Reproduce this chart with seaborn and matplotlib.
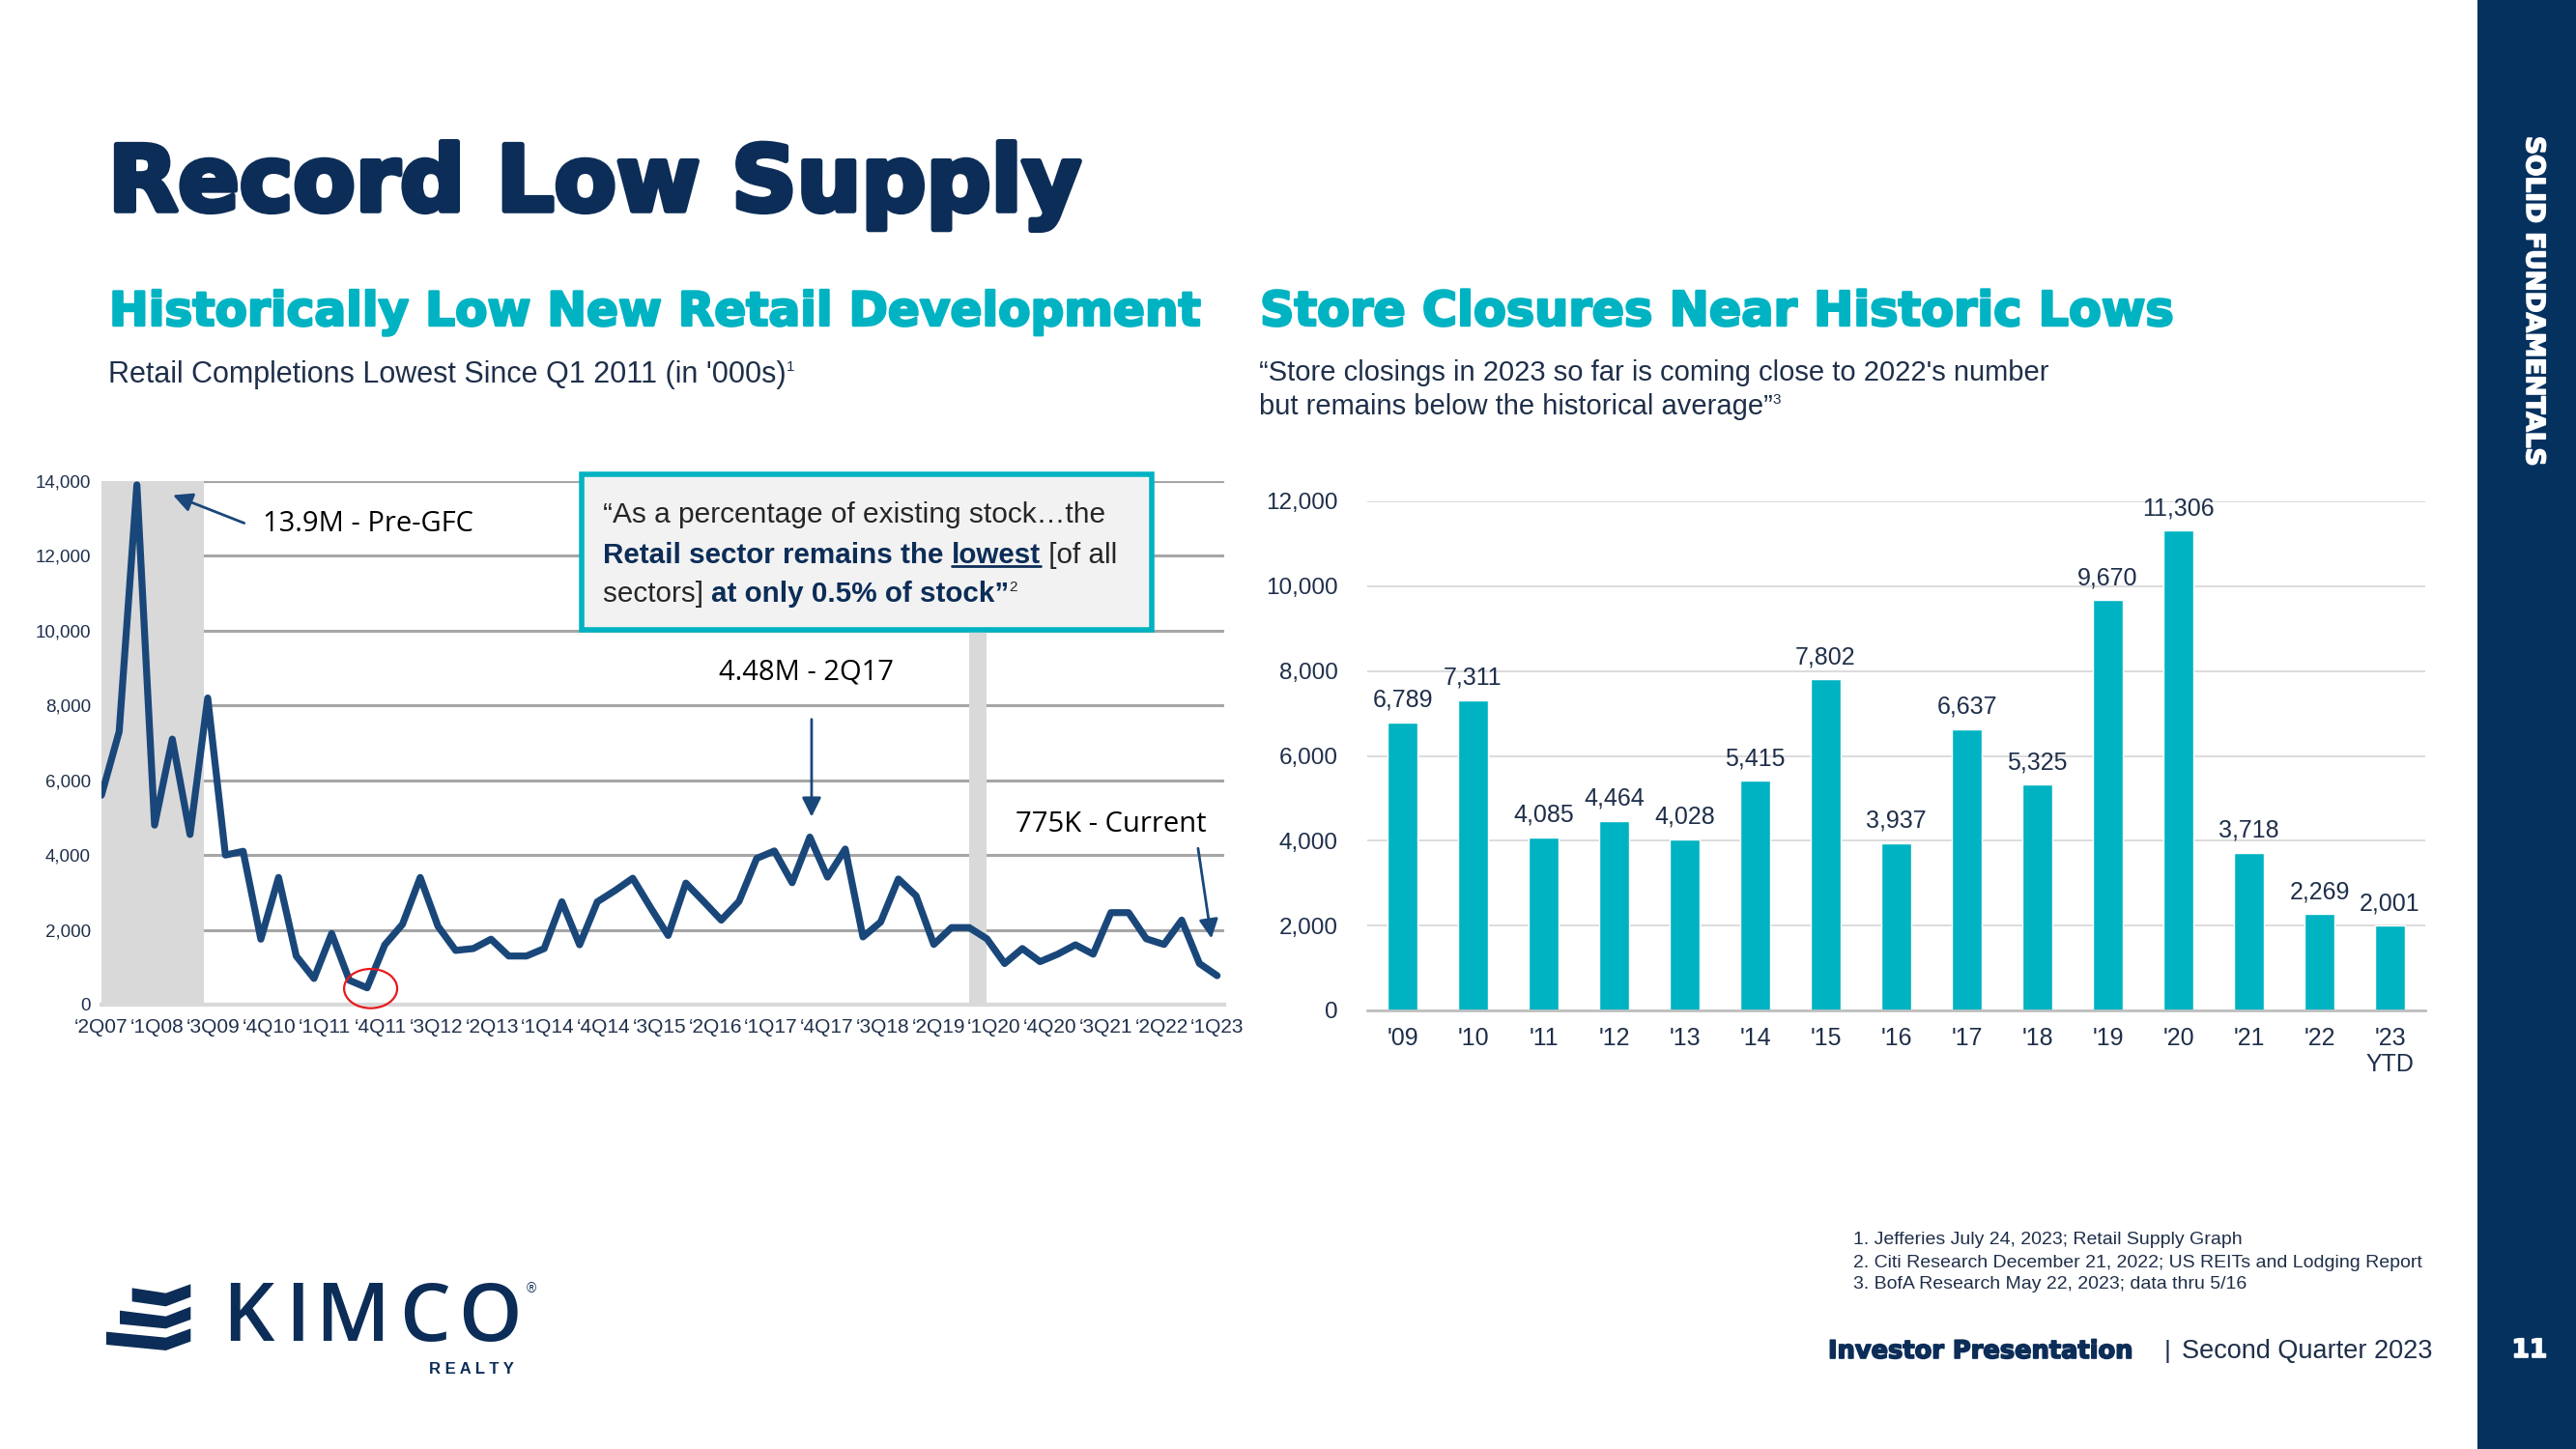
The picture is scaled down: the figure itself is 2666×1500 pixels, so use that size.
import numpy as np
import pandas as pd
import matplotlib.pyplot as plt
import matplotlib.patheffects as pe
import seaborn as sns
from matplotlib.patches import Rectangle, Ellipse, Polygon
from matplotlib.lines import Line2D

# colours
NAVY = '#0C2D57'
TEAL = '#00B3C2'
LINE_NAVY = '#1A477A'
SIDEBAR = '#05315F'
GRID_DARK = '#A6A6A6'
GRID_LIGHT = '#D9D9D9'
INK = '#1F2F4A'

HEAVY = ['DejaVu Sans']
NARROW = ['Liberation Sans Narrow', 'Liberation Sans', 'DejaVu Sans']
ARIAL = ['Liberation Sans', 'DejaVu Sans']
SEGOE = ['Open Sans', 'Noto Sans', 'DejaVu Sans']

# ---- data: retail completions ('000s sq ft), quarterly 2Q07 .. 1Q23
quarter_labels = ["\u20182Q07", "\u20181Q08", "\u20183Q09", "\u20184Q10", "\u20181Q11",
                  "\u20184Q11", "\u20183Q12", "\u20182Q13", "\u20181Q14", "\u20184Q14",
                  "\u20183Q15", "\u20182Q16", "\u20181Q17", "\u20184Q17", "\u20183Q18",
                  "\u20182Q19", "\u20181Q20", "\u20184Q20", "\u20183Q21", "\u20182Q22",
                  "\u20181Q23"]
completions = [5600, 7300, 13900, 4800, 7100, 4550, 8200, 4000, 4100, 1750,
               3400, 1300, 700, 1900, 650, 450, 1600, 2150, 3400, 2100,
               1450, 1500, 1750, 1300, 1300, 1500, 2750, 1600, 2750, 3050,
               3380, 2600, 1850, 3250, 2760, 2260, 2760, 3910, 4110, 3260,
               4480, 3410, 4160, 1810, 2210, 3360, 2910, 1610, 2060, 2060,
               1760, 1100, 1500, 1150, 1350, 1600, 1350, 2460, 2460, 1760,
               1610, 2260, 1100, 775]
left_yticks = [0, 2000, 4000, 6000, 8000, 10000, 12000, 14000]
gfc_span = [0, 5.8]
covid_span = [49, 50]

# ---- data: store closures
closure_years = ["'09", "'10", "'11", "'12", "'13", "'14", "'15", "'16",
                 "'17", "'18", "'19", "'20", "'21", "'22", "'23\nYTD"]
closures = [6789, 7311, 4085, 4464, 4028, 5415, 7802, 3937,
            6637, 5325, 9670, 11306, 3718, 2269, 2001]
right_yticks = [0, 2000, 4000, 6000, 8000, 10000, 12000]

footnotes = ["1. Jefferies July 24, 2023; Retail Supply Graph",
             "2. Citi Research December 21, 2022; US REITs and Lodging Report",
             "3. BofA Research May 22, 2023; data thru 5/16"]

sns.set_theme(style='white')
plt.rcParams['font.family'] = ARIAL

W, H = 2666, 1500
fig = plt.figure(figsize=(W / 100, H / 100), dpi=100)
fig.patch.set_facecolor('white')


def fig_rect(left, top, right, bottom):
    return [left / W, 1 - bottom / H, (right - left) / W, (bottom - top) / H]


def heavy(width, color):
    # thicken the bold face so it reads like a black weight
    return [pe.withStroke(linewidth=width, foreground=color)]


# ================= left chart =================
ax1 = fig.add_axes(fig_rect(105, 498, 1267, 1040))
df_line = pd.DataFrame({'q': np.arange(len(completions)), 'v': completions})
ax1.axvspan(*gfc_span, color=GRID_LIGHT, lw=0, zorder=1)
ax1.axvspan(*covid_span, color=GRID_LIGHT, lw=0, zorder=1)
sns.lineplot(data=df_line, x='q', y='v', color=LINE_NAVY, linewidth=5.2,
             ax=ax1, zorder=3)
ax1.set_xlim(0, len(completions) - 0.6)
ax1.set_ylim(0, 14000)
ax1.set_axisbelow(True)
ax1.yaxis.grid(True, color=GRID_DARK, lw=2.2)
ax1.set_yticks(left_yticks)
ax1.set_yticklabels([f'{v:,}' for v in left_yticks], family=ARIAL,
                    fontsize=13.5, color=INK)
ax1.set_xticks(np.linspace(0, len(completions) - 1, len(quarter_labels)))
ax1.set_xticklabels(quarter_labels, family=NARROW, fontsize=15, color=INK)
ax1.tick_params(axis='both', length=0)
ax1.tick_params(axis='y', pad=8)
ax1.tick_params(axis='x', pad=10)
for s in ['top', 'right', 'left']:
    ax1.spines[s].set_visible(False)
ax1.spines['bottom'].set_color(GRID_LIGHT)
ax1.spines['bottom'].set_linewidth(3)
ax1.set_xlabel('')
ax1.set_ylabel('')

# annotations on the line
arrow_kw = dict(arrowstyle='-|>', color=LINE_NAVY, lw=2, mutation_scale=30)
ax1.annotate('', xy=(3.9, 13650), xytext=(8.2, 12850), arrowprops=arrow_kw)
ax1.text(9.1, 12850, '13.9M - Pre-GFC', family=SEGOE, fontsize=21,
         va='center', ha='left', color='black')
ax1.annotate('', xy=(40.1, 4950), xytext=(40.1, 7700), arrowprops=arrow_kw)
ax1.text(39.8, 8880, '4.48M - 2Q17', family=SEGOE, fontsize=21,
         va='center', ha='center', color='black')
ax1.annotate('', xy=(62.7, 1700), xytext=(61.9, 4250), arrowprops=arrow_kw)
ax1.text(57.0, 4820, '775K - Current', family=SEGOE, fontsize=21,
         va='center', ha='center', color='black')
ax1.add_patch(Ellipse((15.2, 430), 3.0, 1050, fill=False, ec='#E8191C',
                      lw=1.6, zorder=4, clip_on=False))

# ================= right chart =================
ax2 = fig.add_axes(fig_rect(1415, 519, 2510, 1046))
df_bar = pd.DataFrame({'year': closure_years, 'closures': closures})
sns.barplot(data=df_bar, x='year', y='closures', color=TEAL, saturation=1,
            width=0.42, ax=ax2, zorder=2)
ax2.set_ylim(0, 12000)
ax2.set_axisbelow(True)
ax2.yaxis.grid(True, color=GRID_LIGHT, lw=1.3)
ax2.set_yticks(right_yticks)
ax2.set_yticklabels([f'{v:,}' for v in right_yticks], family=ARIAL,
                    fontsize=17.5, color=INK)
ax2.set_xticks(range(len(closure_years)))
ax2.set_xticklabels(closure_years, family=NARROW, fontsize=18,
                    color=INK, linespacing=1.2)
ax2.tick_params(axis='both', length=0)
ax2.tick_params(axis='y', pad=22)
ax2.tick_params(axis='x', pad=12)
for s in ['top', 'right', 'left']:
    ax2.spines[s].set_visible(False)
ax2.spines['bottom'].set_color('#BFBFBF')
ax2.spines['bottom'].set_linewidth(2)
ax2.set_xlabel('')
ax2.set_ylabel('')
for c in ax2.containers:
    ax2.bar_label(c, labels=[f'{v:,}' for v in closures], padding=8,
                  family=NARROW, fontsize=18, color=INK)

# ================= slide overlay =================
ov = fig.add_axes([0, 0, 1, 1], zorder=5)
ov.set_xlim(0, W)
ov.set_ylim(H, 0)
ov.axis('off')
ov.patch.set_alpha(0)

ov.add_patch(Rectangle((2564, 0), W - 2564, H, color=SIDEBAR, lw=0))
ov.text(2622, 141, 'SOLID FUNDAMENTALS', rotation=-90, ha='center', va='top',
        color='white', family=HEAVY, fontweight='bold', fontsize=19,
        path_effects=heavy(1.2, 'white'))
ov.text(2618, 1398, '11', ha='center', va='center', color='white',
        family=HEAVY, fontweight='bold', fontsize=19,
        path_effects=heavy(1.2, 'white'))

ov.text(112, 218, 'Record Low Supply', color=NAVY, family=HEAVY,
        fontweight='bold', fontsize=67.5, va='baseline', ha='left',
        path_effects=heavy(4, NAVY))
ov.text(113, 337, 'Historically Low New Retail Development', color=TEAL,
        family=HEAVY, fontweight='bold', fontsize=35, va='baseline', ha='left',
        path_effects=heavy(1.8, TEAL))
ov.text(1304, 337, 'Store Closures Near Historic Lows', color=TEAL,
        family=HEAVY, fontweight='bold', fontsize=35.5, va='baseline', ha='left',
        path_effects=heavy(1.8, TEAL))
sub = ov.text(112, 396, "Retail Completions Lowest Since Q1 2011 (in '000s)",
              color=INK, family=ARIAL, fontsize=22, va='baseline')
ov.annotate('1', xy=(1, 1), xycoords=sub, va='top', ha='left', fontsize=11,
            color=INK, family=ARIAL)
ov.text(1303, 394, "\u201cStore closings in 2023 so far is coming close to 2022's number",
        color=INK, family=ARIAL, fontsize=21, va='baseline')
q2 = ov.text(1303, 429, "but remains below the historical average\u201d",
             color=INK, family=ARIAL, fontsize=21, va='baseline')
ov.annotate('3', xy=(1, 1), xycoords=q2, va='top', ha='left', fontsize=11,
            color=INK, family=ARIAL)

# quote box
ov.add_patch(Rectangle((602, 491), 590, 161, facecolor='#F2F2F2',
                       edgecolor=TEAL, lw=4))
TXT = '#262626'
ov.text(624, 541, '\u201cAs a percentage of existing stock\u2026the', color=TXT,
        family=ARIAL, fontsize=21.5, va='baseline')
a = ov.text(624, 583, 'Retail sector remains the ', color=NAVY, family=NARROW,
            fontweight='bold', fontsize=21.3, va='baseline')
low = ov.annotate('lowest', xy=(1, 0), xycoords=a, va='bottom', ha='left',
                  color=NAVY, family=NARROW, fontweight='bold', fontsize=21.3)
ov.annotate(' [of all', xy=(1, 0), xycoords=low, va='bottom', ha='left',
            color=TXT, family=ARIAL, fontsize=21.3)
b = ov.text(624, 623, 'sectors] ', color=TXT, family=ARIAL, fontsize=21.3,
            va='baseline')
c = ov.annotate('at only 0.5% of stock\u201d', xy=(1, 0), xycoords=b, va='bottom',
                ha='left', color=NAVY, family=NARROW, fontweight='bold',
                fontsize=21.3)
ov.annotate('2', xy=(1, 1), xycoords=c, va='top', ha='left', fontsize=11,
            color=TXT, family=ARIAL)

# footnotes and footer
for i, note in enumerate(footnotes):
    ov.text(1918, 1284 + i * 23, note, color=INK, family=ARIAL,
            fontsize=14, va='center')
ov.text(1892, 1399, 'Investor Presentation', color=NAVY, family=HEAVY,
        fontweight='bold', fontsize=18.5, va='center',
        path_effects=heavy(1.2, NAVY))
ov.text(2240, 1399, '|', color=INK, family=ARIAL, fontsize=19, va='center')
ov.text(2258, 1399, 'Second Quarter 2023', color=INK, family=ARIAL,
        fontsize=19.5, va='center')

# logo
icon = [[(110, 100), (215, 116), (292, 88), (292, 128), (215, 157), (110, 142)],
        [(72, 170), (215, 188), (292, 158), (292, 198), (215, 226), (72, 212)],
        [(30, 236), (215, 254), (292, 226), (292, 266), (215, 294), (30, 276)]]
for shape in icon:
    pts = [(100 + x / 3, 1300 + y / 3) for x, y in shape]
    ov.add_patch(Polygon(pts, closed=True, color=NAVY, lw=0))
for letter, xc in zip('KIMCO', [257, 308, 365, 440, 507]):
    ov.text(xc, 1388, letter, color=NAVY, family=SEGOE, fontweight='semibold',
            fontsize=60, va='baseline', ha='center')
ov.text(545, 1334, '\u00ae', color=NAVY, family=ARIAL, fontsize=10, va='center')
ov.text(532, 1417, 'R E A L T Y', color=NAVY, family=ARIAL, fontweight='bold',
        fontsize=12, va='center', ha='right')

# underline "lowest"
fig.canvas.draw()
bb = low.get_window_extent()
ov.add_line(Line2D([bb.x0, bb.x1], [H - bb.y0 - 3, H - bb.y0 - 3], color=NAVY, lw=2))

fig.savefig('out.png', dpi=100, facecolor='white')
